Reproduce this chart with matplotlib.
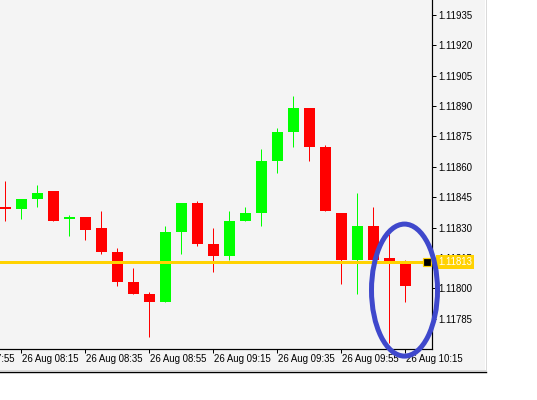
import matplotlib
matplotlib.use("Agg")
import matplotlib.pyplot as plt
from matplotlib.patches import Ellipse, Rectangle
from matplotlib.lines import Line2D

# ---- data ----
times = ["08:10", "08:15", "08:20", "08:25", "08:30", "08:35", "08:40", "08:45",
         "08:50", "08:55", "09:00", "09:05", "09:10", "09:15", "09:20", "09:25",
         "09:30", "09:35", "09:40", "09:45", "09:50", "09:55", "10:00", "10:05",
         "10:10", "10:15"]
opens = [1.11840, 1.11839, 1.11844, 1.11848, 1.11834, 1.11835, 1.11830, 1.11818,
         1.11803, 1.11797, 1.11793, 1.11828, 1.11842, 1.11822, 1.11816, 1.11833,
         1.11837, 1.11863, 1.11877, 1.11889, 1.11870, 1.11837, 1.11814, 1.11831,
         1.11815, 1.11812]
highs = [1.11853, 1.11844, 1.11851, 1.11848, 1.11836, 1.11835, 1.11838, 1.11820,
         1.11810, 1.11798, 1.11831, 1.11842, 1.11843, 1.11830, 1.11838, 1.11840,
         1.11869, 1.11879, 1.11895, 1.11889, 1.11871, 1.11837, 1.11847, 1.11840,
         1.11827, 1.11814]
lows = [1.11833, 1.11834, 1.11840, 1.11833, 1.11826, 1.11824, 1.11817, 1.11801,
        1.11797, 1.11776, 1.11793, 1.11817, 1.11821, 1.11808, 1.11814, 1.11833,
        1.11831, 1.11857, 1.11870, 1.11863, 1.11838, 1.11802, 1.11797, 1.11814,
        1.11773, 1.11793]
closes = [1.11839, 1.11844, 1.11847, 1.11833, 1.11835, 1.11829, 1.11818, 1.11803,
          1.11797, 1.11793, 1.11828, 1.11842, 1.11822, 1.11816, 1.11833, 1.11837,
          1.11863, 1.11877, 1.11889, 1.11870, 1.11838, 1.11814, 1.11831, 1.11814,
          1.11812, 1.11801]

x_tick_idx = [-3, 1, 5, 9, 13, 17, 21, 25]
x_tick_labels = ["26 Aug 07:55", "26 Aug 08:15", "26 Aug 08:35", "26 Aug 08:55",
                 "26 Aug 09:15", "26 Aug 09:35", "26 Aug 09:55", "26 Aug 10:15"]
y_ticks = [1.11785, 1.11800, 1.11815, 1.11830, 1.11845, 1.11860, 1.11875,
           1.11890, 1.11905, 1.11920, 1.11935]
y_tick_labels = ["%.5f" % v for v in y_ticks]
hline_price = 1.11813
hline_label = "1.11813"

# ---- styling ----
BG = "#F4F4F4"
UP = "#00FF00"
DOWN = "#FF0000"
YEL = "#FFD200"
FONT = "Liberation Sans"
FS = 6.9
PX = 0.72  # points per pixel at dpi 100

W, H = 537, 400
fig = plt.figure(figsize=(W / 100, H / 100), dpi=100)
fig.patch.set_facecolor("white")

# grey panel
fig.patches.append(Rectangle((0, 30 / H), 485 / W, 1 - 30 / H, transform=fig.transFigure,
                             facecolor=BG, edgecolor="none", zorder=-5))
fig.lines.append(Line2D([485.5 / W, 485.5 / W], [30 / H, 1], transform=fig.transFigure,
                        color="#DADADA", lw=1 * PX, zorder=-4))
fig.lines.append(Line2D([0, 485.5 / W], [30.5 / H, 30.5 / H], transform=fig.transFigure,
                        color="#DADADA", lw=1 * PX, zorder=-4))
fig.lines.append(Line2D([0, 486 / W], [28 / H, 28 / H], transform=fig.transFigure,
                        color="black", lw=1.4 * PX, zorder=-4))

ax = fig.add_axes([0, (H - 349) / H, 432 / W, 349 / H])
ax.set_zorder(2)
ax.set_facecolor(BG)

n = len(times)
idx = list(range(n))
for i in idx:
    o, h, l, c = opens[i], highs[i], lows[i], closes[i]
    col = UP if c >= o else DOWN
    ax.vlines(i, l, h, color=col, lw=1 * PX, zorder=2)
    bottom = min(o, c)
    height = max(abs(c - o), 0.000005)
    ax.bar(i, height, bottom=bottom, width=11 / 16, color=col, zorder=3, linewidth=0)

ax.set_xlim(-5 / 16, (432 - 5) / 16)
ax.set_ylim(1.117700, 1.119424)

# spines
for s in ["top", "left"]:
    ax.spines[s].set_visible(False)
for s in ["right", "bottom"]:
    ax.spines[s].set_color("black")
    ax.spines[s].set_linewidth(1.2 * PX)

# y ticks on the right
ax.yaxis.tick_right()
ax.set_yticks(y_ticks)
ax.set_yticklabels(y_tick_labels, fontfamily=FONT, fontsize=FS)
ax.tick_params(axis="y", direction="out", length=4 * PX, width=1 * PX, pad=2 * PX,
               colors="black")

# x ticks
ax.set_xticks([t for t in x_tick_idx if t >= 0])
ax.set_xticklabels([])
ax.tick_params(axis="x", direction="out", length=4 * PX, width=1 * PX, colors="black")
for t, lab in zip(x_tick_idx, x_tick_labels):
    ax.annotate(lab, xy=(t, 0), xycoords=("data", "axes fraction"),
                xytext=(1 * PX, -10 * PX), textcoords="offset points",
                ha="left", va="center", fontfamily=FONT, fontsize=FS,
                annotation_clip=False)

# horizontal line
ax.axhline(hline_price, color=YEL, lw=3 * PX, zorder=4)
ax.plot([(427 - 5) / 16], [hline_price], marker="s", markersize=8 * PX,
        markerfacecolor="black", markeredgecolor=YEL, markeredgewidth=1.2 * PX,
        clip_on=False, zorder=6)
ax.annotate(hline_label, xy=(1, hline_price), xycoords=("axes fraction", "data"),
            xytext=(6 * PX, 0), textcoords="offset points", ha="left", va="center",
            fontfamily=FONT, fontsize=FS, color="white", annotation_clip=False,
            bbox=dict(boxstyle="square,pad=0.2", facecolor=YEL, edgecolor="none"),
            zorder=7)

# ellipse highlight
ell = Ellipse(((404.5 - 5) / 16, 1.117991), width=66 / 16, height=132 / 30.36 * 0.00015,
              facecolor="none", edgecolor="#3F48CC", lw=5 * PX, clip_on=False, zorder=8)
ax.add_patch(ell)

fig.savefig("out.png", dpi=100, facecolor=fig.get_facecolor())
